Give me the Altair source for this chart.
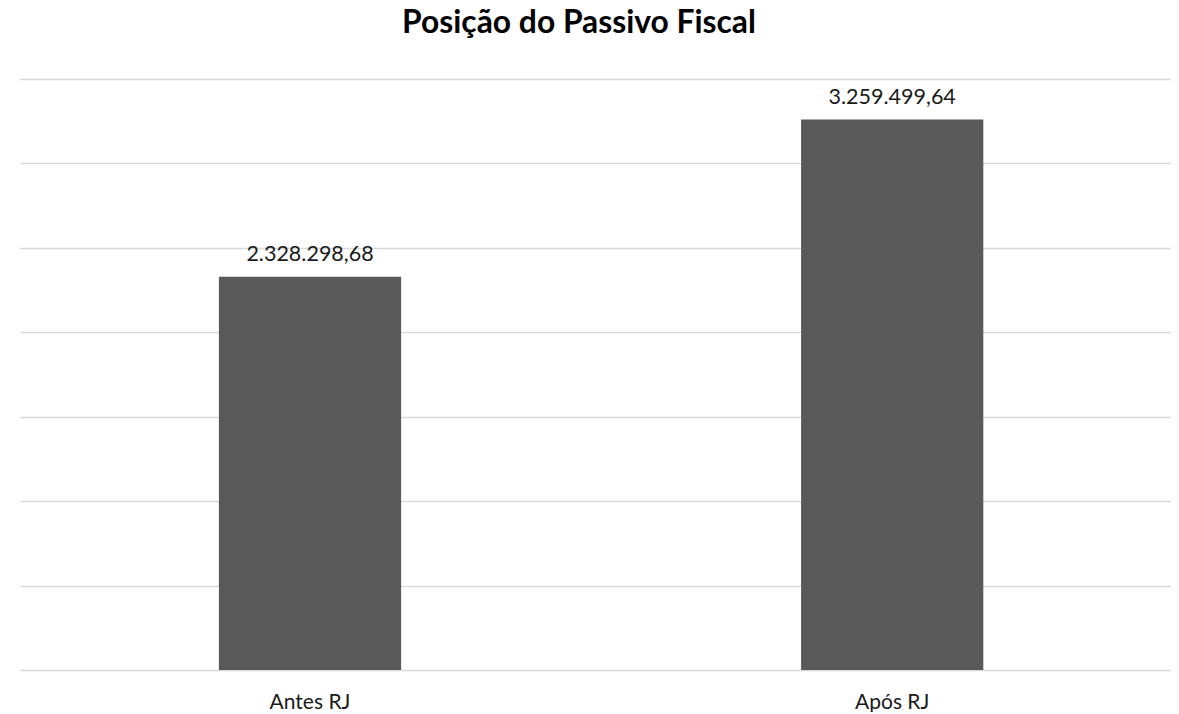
import altair as alt
import pandas as pd

categories = ["Antes RJ", "Após RJ"]
values = [2328298.68, 3259499.64]
title_text = "Posição do Passivo Fiscal"
y_ticks = [0, 500000, 1000000, 1500000, 2000000, 2500000, 3000000, 3500000]


def fmt_br(v):
    s = f"{v:,.2f}"
    return s.replace(",", "X").replace(".", ",").replace("X", ".")


df = pd.DataFrame({
    "cat": categories,
    "val": values,
    "label": [fmt_br(v) for v in values],
})

FONT = "Lato"

x = alt.X(
    "cat:N",
    sort=categories,
    scale=alt.Scale(paddingInner=0.687, paddingOuter=0.332, align=0.5145),
    axis=alt.Axis(
        title=None, labelAngle=0, ticks=False, domain=False,
        labelFont=FONT, labelFontSize=21, labelColor="#1a1a1a",
        labelBaseline="alphabetic", labelPadding=38, grid=False,
    ),
)
y = alt.Y(
    "val:Q",
    scale=alt.Scale(domain=[0, 3500000], nice=False),
    axis=alt.Axis(
        title=None, labels=False, ticks=False, domain=False,
        values=y_ticks, grid=True, gridColor="#d9d9d9", gridWidth=1.4,
    ),
)

bars = alt.Chart(df).mark_bar(color="#595959").encode(x=x, y=y)
texts = alt.Chart(df).mark_text(
    font=FONT, fontSize=21.5, color="#1a1a1a", baseline="alphabetic", dy=-16
).encode(x=alt.X("cat:N", sort=categories), y=alt.Y("val:Q"), text="label:N")

chart = (
    alt.layer(bars, texts)
    .properties(
        width=1151,
        height=591,
        title=alt.TitleParams(
            text=title_text, font=FONT, fontSize=31.8, fontWeight="bold",
            color="#000000", anchor="middle", baseline="alphabetic",
            offset=14, dx=-16.5,
        ),
        autosize=alt.AutoSizeParams(type="none"),
        padding={"left": 12, "top": 71, "right": 0, "bottom": 42},
    )
    .configure_view(stroke=None)
)

chart.save("out.html", embed_options={"renderer": "svg", "actions": False})
